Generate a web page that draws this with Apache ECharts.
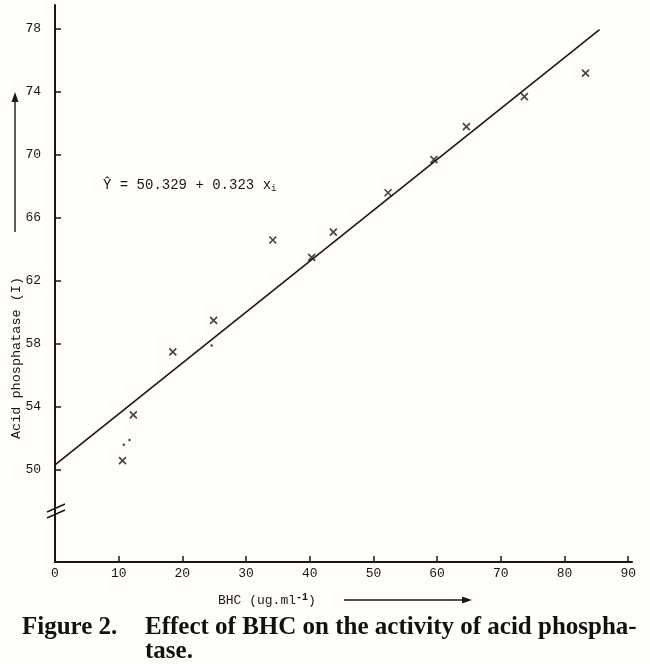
<!DOCTYPE html>
<html>
<head>
<meta charset="utf-8">
<script src="https://cdn.jsdelivr.net/npm/echarts@6/dist/echarts.min.js"></script>
<style>
  html, body { margin: 0; padding: 0; background: #fffefb; }
  #chart { width: 650px; height: 664px; }
</style>
</head>
<body>
<div id="chart"></div>
<script>
// BHC concentration (ug/ml) vs acid phosphatase
var crossX = [10.6, 12.3, 18.5, 24.9, 34.2, 40.3, 43.7, 52.3, 59.5, 64.6, 73.7, 83.3];
var crossY = [50.6, 53.5, 57.5, 59.5, 64.6, 63.5, 65.1, 67.6, 69.7, 71.8, 73.7, 75.2];
// stray small dots near some of the points
var dotX = [10.8, 11.7, 24.6];
var dotY = [51.6, 51.9, 57.9];
// fitted line end points
var fitX = [0, 85.5];
var fitY = [50.33, 77.95];
var xTicks = [0, 10, 20, 30, 40, 50, 60, 70, 80, 90];
var yTicks = [50, 54, 58, 62, 66, 70, 74, 78];

(function () {
  var myChart = echarts.init(document.getElementById('chart'));
  var ink = '#1b1714';
  var mono = '"Liberation Mono", "DejaVu Sans Mono", monospace';
  var serif = '"Liberation Serif", serif';

  function zip(a, b) {
    var out = [];
    for (var i = 0; i < a.length; i++) out.push([a[i], b[i]]);
    return out;
  }

  var option = {
    backgroundColor: '#fffefb',
    animation: false,
    grid: { left: 55, top: 5, width: 577, height: 557 },
    xAxis: {
      type: 'value',
      min: 0,
      max: 90.6,
      splitLine: { show: false },
      axisLine: { lineStyle: { color: ink, width: 2 } },
      axisTick: { inside: true, length: 6, customValues: xTicks, lineStyle: { color: ink, width: 1.5 } },
      axisLabel: { customValues: xTicks, color: ink, fontFamily: mono, fontSize: 13, margin: 5 }
    },
    yAxis: {
      type: 'value',
      min: 44.16,
      max: 79.52,
      splitLine: { show: false },
      axisLine: { lineStyle: { color: ink, width: 2 } },
      axisTick: { inside: true, length: 6, customValues: yTicks, lineStyle: { color: ink, width: 1.5 } },
      axisLabel: { customValues: yTicks, color: ink, fontFamily: mono, fontSize: 13, margin: 14 }
    },
    series: [
      {
        type: 'line',
        data: zip(fitX, fitY),
        showSymbol: false,
        lineStyle: { color: ink, width: 1.6 }
      },
      {
        type: 'scatter',
        data: zip(crossX, crossY),
        symbol: 'path://M0,0L10,10M10,0L0,10',
        symbolSize: 7,
        itemStyle: { color: 'none', borderColor: ink, borderWidth: 1.7 }
      },
      {
        type: 'scatter',
        data: zip(dotX, dotY),
        symbol: 'circle',
        symbolSize: 2.5,
        itemStyle: { color: ink }
      }
    ],
    graphic: [
      // axis break
      { type: 'line', shape: { x1: 47, y1: 512, x2: 65, y2: 504 }, style: { stroke: ink, lineWidth: 1.6 } },
      { type: 'line', shape: { x1: 47, y1: 518, x2: 65, y2: 510 }, style: { stroke: ink, lineWidth: 1.6 } },
      // y axis title with arrow
      {
        type: 'text', x: 16, y: 358, rotation: Math.PI / 2,
        style: { text: 'Acid phosphatase (I)', font: '13.5px ' + mono, fill: ink, align: 'center', verticalAlign: 'middle' }
      },
      { type: 'line', shape: { x1: 15, y1: 232, x2: 15, y2: 98 }, style: { stroke: ink, lineWidth: 1.4 } },
      { type: 'polygon', shape: { points: [[15, 92], [11.5, 102], [18.5, 102]] }, style: { fill: ink } },
      // x axis title with arrow
      {
        type: 'text', x: 218, y: 601,
        style: { text: 'BHC (ug.ml{s|-1})', font: '13px ' + mono, fill: ink, verticalAlign: 'middle',
          rich: { s: { fontSize: 10, fontFamily: mono, fontWeight: 'bold', verticalAlign: 'top', padding: [0, 0, 8, 0] } } }
      },
      { type: 'line', shape: { x1: 344, y1: 600, x2: 466, y2: 600 }, style: { stroke: ink, lineWidth: 1.4 } },
      { type: 'polygon', shape: { points: [[472, 600], [462, 596.5], [462, 603.5]] }, style: { fill: ink } },
      // regression equation
      {
        type: 'text', x: 103, y: 185,
        style: { text: 'Ŷ = 50.329 + 0.323 x{i|i}', font: '14px ' + mono, fill: ink, verticalAlign: 'middle',
          rich: { i: { fontSize: 9, fontFamily: mono, padding: [7, 0, 0, 0] } } }
      },
      // caption
      {
        type: 'text', x: 22, y: 628,
        style: { text: 'Figure 2.', font: 'bold 25px ' + serif, fill: '#111', verticalAlign: 'middle' }
      },
      {
        type: 'text', x: 145, y: 628,
        style: { text: 'Effect of BHC on the activity of acid phospha-', font: 'bold 25px ' + serif, fill: '#111', verticalAlign: 'middle' }
      },
      {
        type: 'text', x: 145, y: 652,
        style: { text: 'tase.', font: 'bold 25px ' + serif, fill: '#111', verticalAlign: 'middle' }
      }
    ]
  };
  myChart.setOption(option);
})();
</script>
</body>
</html>
